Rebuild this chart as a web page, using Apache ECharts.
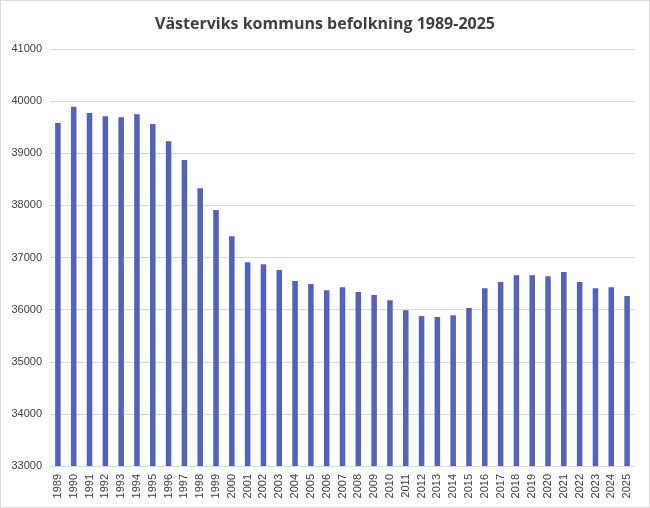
<!DOCTYPE html>
<html><head><meta charset="utf-8">
<script src="https://cdn.jsdelivr.net/npm/echarts@6/dist/echarts.min.js"></script>
<style>html,body{margin:0;padding:0;background:#fff}#c{width:648px;height:506px;border:1px solid #d9d9d9}</style>
</head><body><div id="c"></div>
<script>
const years=[];for(let y=1989;y<=2025;y++)years.push(String(y));
const population=[39580,39890,39770,39710,39690,39750,39560,39230,38870,38330,37910,37410,36910,36870,36760,36550,36490,36370,36430,36340,36280,36180,35990,35880,35860,35890,36030,36410,36530,36660,36660,36640,36720,36530,36410,36430,36260];
const chart=echarts.init(document.getElementById('c'));
chart.setOption({
 animation:false,
 title:{text:'Västerviks kommuns befolkning 1989-2025',left:'center',top:10,textStyle:{fontFamily:'Open Sans',fontSize:16,fontWeight:'bold',color:'#404040'}},
 grid:{left:49,right:14,top:48,bottom:41},
 xAxis:{type:'category',data:years,axisTick:{show:false},axisLine:{lineStyle:{color:'#d9d9d9'}},
  axisLabel:{rotate:90,color:'#404040',fontSize:11,fontFamily:'Liberation Sans',interval:0}},
 yAxis:{type:'value',min:33000,max:41000,interval:1000,axisLabel:{color:'#404040',fontSize:11,fontFamily:'Liberation Sans',formatter:v=>String(v)},
  splitLine:{lineStyle:{color:'#d9d9d9'}}},
 series:[{type:'bar',data:population,barWidth:'35%',itemStyle:{color:'#5262bd'}}]
});
</script></body></html>
